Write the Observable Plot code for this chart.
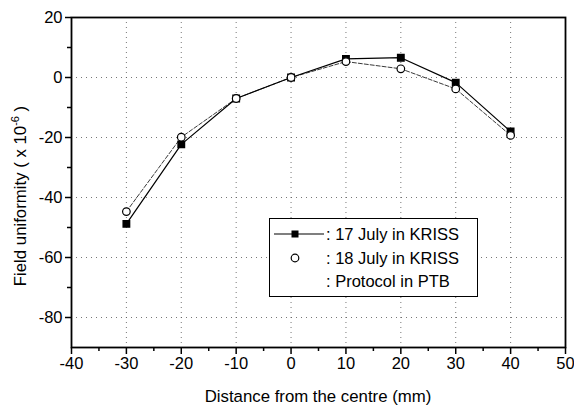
<!DOCTYPE html>
<html><head><meta charset="utf-8">
<script src="https://cdn.jsdelivr.net/npm/d3@7"></script>
<script src="https://cdn.jsdelivr.net/npm/@observablehq/plot@0.6"></script>
<style>
body{margin:0;background:#fff;}
#wrap{position:relative;width:574px;height:407px;font-family:"Liberation Sans",Arial,sans-serif;color:#000;}
#legend{position:absolute;left:269px;top:218px;width:207px;height:77px;border:1.6px solid #000;background:#fff;font-size:16.5px;}
#legend .row{position:absolute;left:0;height:22px;width:100%;}
#legend svg{position:absolute;left:2px;top:0;}
#legend span{position:absolute;left:56px;top:2px;white-space:nowrap;}
</style></head><body><div id="wrap"></div>
<script>
const distances = [-30, -20, -10, 0, 10, 20, 30, 40];
const july17 = [-48.8, -22.3, -7.0, 0.0, 6.2, 6.6, -1.7, -18.0];
const july18 = [-44.7, -19.9, -7.0, 0.0, 5.3, 2.9, -3.8, -19.3];
const xTicks = [-40, -30, -20, -10, 0, 10, 20, 30, 40, 50];
const yTicks = [-80, -60, -40, -20, 0, 20];
const xMinor = [-35, -25, -15, -5, 5, 15, 25, 35, 45];
const yMinor = [-70, -50, -30, -10, 10];
const legendLabels = [": 17 July in KRISS", ": 18 July in KRISS", ": Protocol in PTB"];
const xTitle = "Distance from the centre (mm)";

const d17 = distances.map((x, i) => ({x, y: july17[i]}));
const d18 = distances.map((x, i) => ({x, y: july18[i]}));
const fmt = d => String(d);

const chart = Plot.plot({
  width: 574, height: 407,
  marginLeft: 71, marginRight: 9, marginTop: 17, marginBottom: 60,
  style: {fontSize: "16px", fontFamily: "'Liberation Sans', Arial, sans-serif", color: "#000", background: "#fff"},
  x: {domain: [-40, 50], ticks: xTicks, label: null},
  y: {domain: [-90, 20], ticks: yTicks, label: null},
  marks: [
    Plot.gridX(xTicks, {stroke: "#555", strokeOpacity: 0.8, strokeDasharray: "1,4"}),
    Plot.gridY(yTicks, {stroke: "#555", strokeOpacity: 0.8, strokeDasharray: "1,4"}),
    Plot.axisX(xTicks, {tickSize: 7, tickPadding: 3, strokeWidth: 1.5, fontSize: 16.5, tickFormat: fmt}),
    Plot.axisX(xMinor, {tickSize: 4, tickFormat: () => "", strokeWidth: 1.5}),
    Plot.axisY(yTicks, {tickSize: 6, tickPadding: 3, strokeWidth: 1.5, fontSize: 16.5, tickFormat: fmt}),
    Plot.axisY(yMinor, {tickSize: 4, tickFormat: () => "", strokeWidth: 1.5}),
    Plot.line(d18, {x: "x", y: "y", stroke: "#222", strokeWidth: 0.9, strokeDasharray: "4,2"}),
    Plot.line(d17, {x: "x", y: "y", stroke: "#000", strokeWidth: 1.2}),
    Plot.dot(d17, {x: "x", y: "y", symbol: "square", r: 3.6, fill: "#000", stroke: "#000"}),
    Plot.dot(d18, {x: "x", y: "y", symbol: "circle", r: 3.8, fill: "#fff", stroke: "#000", strokeWidth: 1.2}),
    Plot.frame({stroke: "#000", strokeWidth: 1.8})
  ]
});
document.getElementById("wrap").appendChild(chart);

const svg = d3.select(chart);
svg.append("text")
  .attr("x", 318).attr("y", 402)
  .attr("text-anchor", "middle")
  .attr("font-size", 16.8)
  .attr("font-family", "'Liberation Sans', Arial, sans-serif")
  .text(xTitle);
const yt = svg.append("text")
  .attr("transform", "translate(26,196) rotate(-90)")
  .attr("text-anchor", "middle")
  .attr("font-size", 16.8)
  .attr("font-family", "'Liberation Sans', Arial, sans-serif");
yt.append("tspan").text("Field uniformity ( x 10");
yt.append("tspan").attr("font-size", 11).attr("dy", -7).text("-6");
yt.append("tspan").attr("dy", 7).text(" )");

// legend
const legend = document.createElement("div");
legend.id = "legend";
const syms = [
  '<svg width="56" height="22"><line x1="2" y1="11" x2="52" y2="11" stroke="#000" stroke-width="1.2"/><rect x="19.5" y="7.5" width="7" height="7" fill="#000"/></svg>',
  '<svg width="56" height="22"><circle cx="23" cy="11" r="3.8" fill="#fff" stroke="#000" stroke-width="1.2"/></svg>',
  ''
];
legendLabels.forEach((t, i) => {
  const row = document.createElement("div");
  row.className = "row";
  row.style.top = (4 + i * 23.5) + "px";
  row.innerHTML = syms[i] + "<span>" + t + "</span>";
  legend.appendChild(row);
});
document.getElementById("wrap").appendChild(legend);
</script></body></html>
